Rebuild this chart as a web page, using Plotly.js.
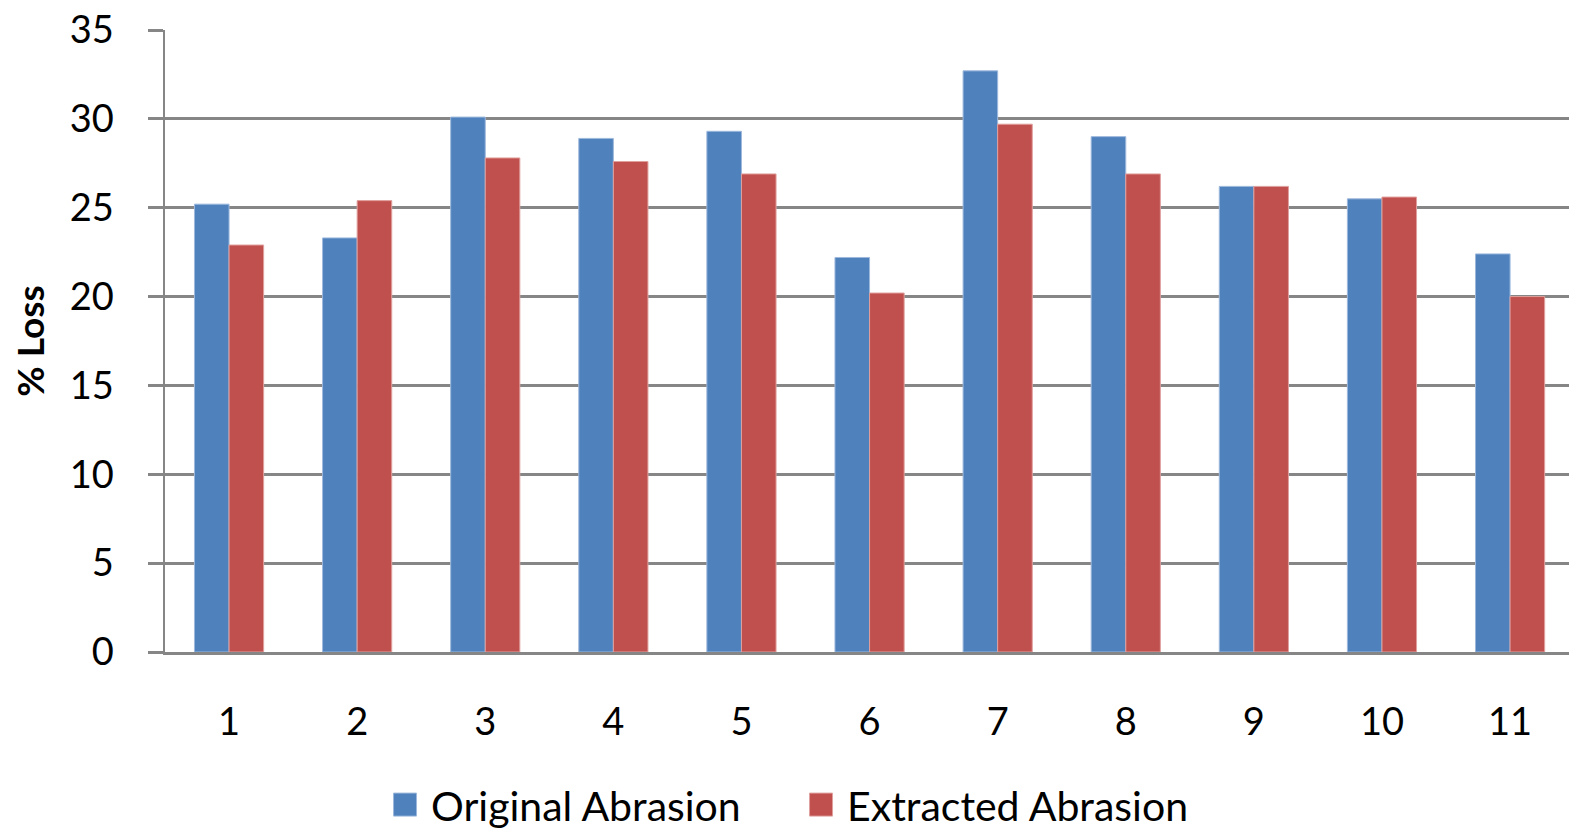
<!DOCTYPE html>
<html>
<head>
<meta charset="utf-8">
<script src="https://cdn.plot.ly/plotly-3.0.1.min.js"></script>
<style>html,body{margin:0;padding:0;background:#fff;}#chart{width:1569px;height:829px;}</style>
</head>
<body>
<div id="chart"></div>
<script>
const categories = ['1','2','3','4','5','6','7','8','9','10','11'];
const originalAbrasion = [25.2, 23.3, 30.1, 28.9, 29.3, 22.2, 32.7, 29.0, 26.2, 25.5, 22.4];
const extractedAbrasion = [22.9, 25.4, 27.8, 27.6, 26.9, 20.2, 29.7, 26.9, 26.2, 25.6, 20.0];
const yTicks = [0, 5, 10, 15, 20, 25, 30, 35];

const FONT = 'Lato, Carlito, Calibri, sans-serif';
const data = [
  {type:'bar', name:'Original Abrasion', x:categories, y:originalAbrasion,
   marker:{color:'#4F81BD', line:{color:'#9DB8DC', width:1}}},
  {type:'bar', name:'Extracted Abrasion', x:categories, y:extractedAbrasion,
   marker:{color:'#C0504D', line:{color:'#DFA09E', width:1}}}
];
const layout = {
  width:1569, height:829,
  margin:{l:165, r:0, t:30, b:177, autoexpand:false},
  paper_bgcolor:'#fff', plot_bgcolor:'#fff',
  font:{family:FONT, color:'#000', size:38},
  barmode:'group', bargap:0.46, bargroupgap:0,
  showlegend:true,
  legend:{orientation:'h', xref:'container', yref:'container',
          x:0.2454, xanchor:'left', y:0.029, yanchor:'middle',
          entrywidth:371, entrywidthmode:'pixels',
          font:{family:FONT, size:41, color:'#000'}, itemwidth:30},
  xaxis:{type:'category', range:[-0.5, 10.46], showgrid:false, showline:true,
         linecolor:'#868686', linewidth:3, ticks:'', ticklabelstandoff:34,
         tickfont:{family:FONT, size:38, color:'#000'}, zeroline:false, automargin:false},
  yaxis:{range:[0,35], tickvals:yTicks, ticktext:yTicks.map(String),
         showgrid:true, gridcolor:'#868686', gridwidth:3,
         showline:true, linecolor:'#868686', linewidth:2.5,
         ticks:'outside', ticklen:15, tickwidth:3, tickcolor:'#868686',
         ticklabelstandoff:26, zeroline:false, automargin:false,
         tickfont:{family:FONT, size:38, color:'#000'},
         title:{text:'<b>% Loss</b>', standoff:14, font:{family:FONT, size:37, color:'#000'}}}
};
Plotly.newPlot('chart', data, layout, {displayModeBar:false, staticPlot:true}).then(function(gd){
  // enlarge legend swatches to match the reference's larger squares
  gd.querySelectorAll('.legendpoints path').forEach(function(p){
    p.setAttribute('d','M11.5,11.5H-11.5V-11.5H11.5Z');
  });
  gd.querySelectorAll('.legendtext').forEach(function(t){
    var x = parseFloat(t.getAttribute('x')) || 0;
    t.setAttribute('x', x + 6);
  });
});
</script>
</body>
</html>
